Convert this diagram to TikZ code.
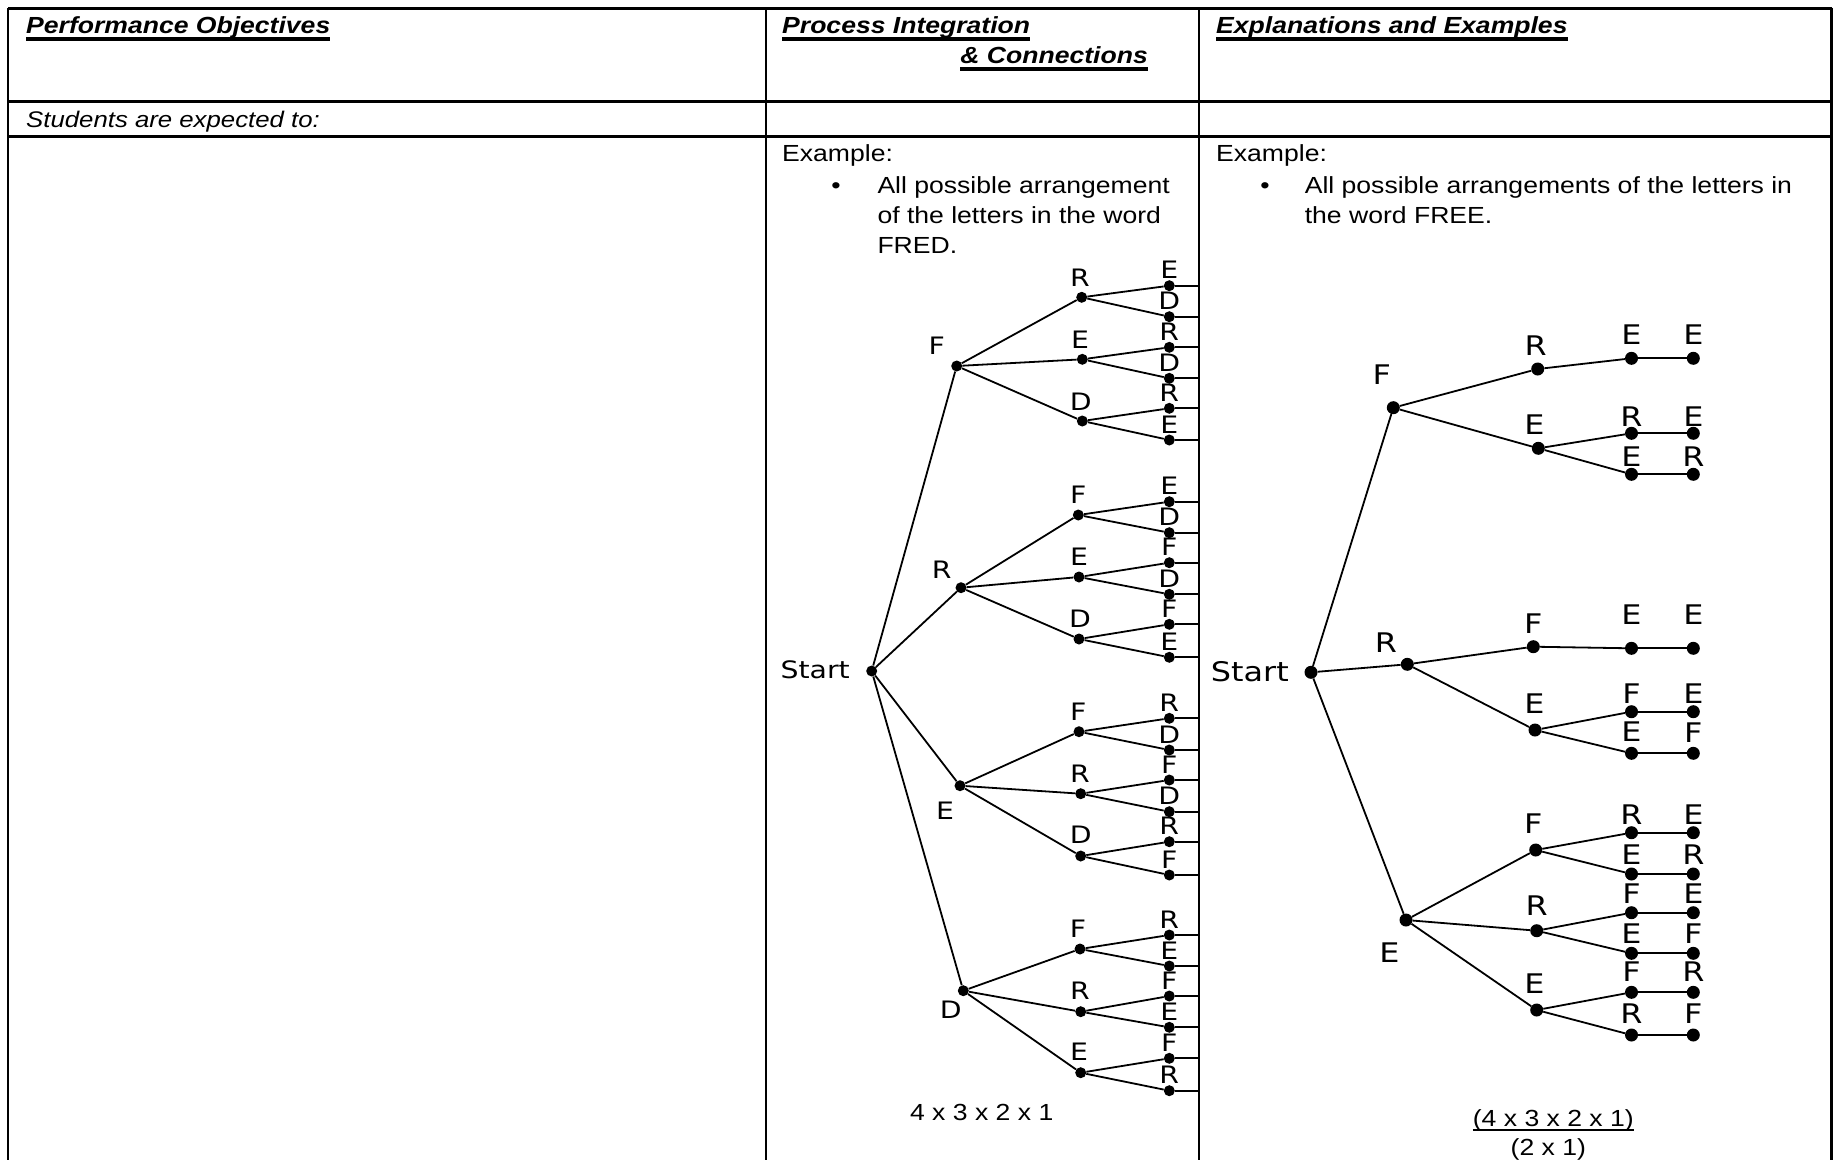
\documentclass[tikz,border=0pt]{standalone}
\usepackage{fontspec}
\setmainfont{Liberation Sans}
\newfontfamily\bodyf{Liberation Sans}[FakeStretch=1.14]
\newfontfamily\treef{DejaVu Sans}[FakeStretch=1.18]
\newcommand\ulx[3]{\setbox0\hbox{#3}\rlap{\vrule width\wd0 height -#1 depth #2}\box0}
\newcommand\ptl[6]{\node[dotl] (#1) at (#2,#3) {}; \node[labl] (#1t) at (#4,#5) {#6};}
\newcommand\ptr[6]{\node[dotr] (#1) at (#2,#3) {}; \node[labr] (#1t) at (#4,#5) {#6};}
\newcommand\lf[3]{\node[dotl] (#1) at (1169.3,#2) {}; \node[labl] (#1t) at (1169.3,{#2-15.7}) {#3};}
\begin{document}
\begin{tikzpicture}[x=1pt,y=-1pt,
  tblh/.style={line width=3pt},
  tblv/.style={line width=2.7pt},
  edge/.style={line width=1.8pt},
  dotl/.style={circle,fill=black,inner sep=0pt,minimum size=11pt},
  dotr/.style={circle,fill=black,inner sep=0pt,minimum size=13pt},
  labl/.style={inner sep=0pt,font=\treef\fontsize{24}{28}\selectfont},
  labr/.style={inner sep=0pt,font=\treef\fontsize{27}{32}\selectfont},
  body/.style={inner sep=0pt,font=\bodyf\fontsize{23.3}{30}\selectfont},
  head/.style={inner sep=0pt,font=\bodyf\fontsize{23.3}{30}\selectfont\bfseries\itshape}]
\fill[white] (0,0) rectangle (1833,1160);
\useasboundingbox (0,0) rectangle (1833,1160);
\clip (0,0) rectangle (1833,1160);
% table
\draw[tblh] (8,8.7) -- (1832,8.7);
\draw[tblh] (8,101.8) -- (1832,101.8);
\draw[tblh] (8,136.3) -- (1832,136.3);
\draw[tblv] (8,7.5) -- (8,1160);
\draw[tblv] (766,7.5) -- (766,1160);
\draw[tblv] (1199,7.5) -- (1199,1160);
\draw[tblv] (1831.5,7.5) -- (1831.5,1160);
\coordinate (colB) at (1198,0);
% headers
\node[head,anchor=base west] (h1) at (26,33.3) {\ulx{4pt}{7.2pt}{Performance Objectives}};
\node[head,anchor=base west] (h2) at (782,33.3) {\ulx{4pt}{7.2pt}{Process Integration}};
\node[head,anchor=base east] (h2b) at (1148,63.3) {\ulx{4pt}{7.2pt}{\& Connections}};
\node[head,anchor=base west] (h3) at (1216,33.3) {\ulx{4pt}{7.2pt}{Explanations and Examples}};
\node[body,anchor=base west,font=\bodyf\fontsize{22.6}{30}\selectfont\itshape] (st) at (26,127.7) {Students are expected to:};
% column 2 text
\node[body,anchor=base west] (ex2) at (782,161.7) {Example:};
\node[body,anchor=base] (bu2) at (836,193.3) {\textbullet};
\node[body,anchor=base west] (t2a) at (877.3,193.3) {All possible arrangement};
\node[body,anchor=base west] (t2b) at (877.3,223.3) {of the letters in the word};
\node[body,anchor=base west] (t2c) at (877.3,253.3) {FRED.};
% column 3 text
\node[body,anchor=base west] (ex3) at (1216,161.7) {Example:};
\node[body,anchor=base] (bu3) at (1265,193.3) {\textbullet};
\node[body,anchor=base west] (t3a) at (1304.6,193.3) {All possible arrangements of the letters in};
\node[body,anchor=base west] (t3b) at (1304.6,223.3) {the word FREE.};
% ---------- left tree (FRED) ----------
\node[dotl] (s1) at (871.7,671) {};
\node[labl,anchor=east] (s1t) at (850,670) {Start};
\ptl{a}{956.7}{366}{936.7}{346}{F}
\ptl{b}{961}{587.7}{941.7}{569.3}{R}
\ptl{c}{960}{785.7}{945}{811}{E}
\ptl{d}{963.3}{990.7}{950.7}{1009.3}{D}
\ptl{aR}{1081.7}{297.3}{1080}{278}{R}
\ptl{aE}{1082.3}{359.3}{1080}{340}{E}
\ptl{aD}{1082.3}{421}{1080.7}{401.7}{D}
\ptl{bF}{1078.3}{515}{1078.3}{495}{F}
\ptl{bE}{1079}{577}{1079}{556.7}{E}
\ptl{bD}{1079}{639}{1080}{618.3}{D}
\ptl{cF}{1079}{731.7}{1078.3}{711.7}{F}
\ptl{cR}{1080.7}{793.7}{1080}{774}{R}
\ptl{cD}{1080.7}{856}{1080.7}{835}{D}
\ptl{dF}{1080}{949}{1078}{928.3}{F}
\ptl{dR}{1080.7}{1011.7}{1080}{990.7}{R}
\ptl{dE}{1080.7}{1072.7}{1079}{1051.7}{E}
\lf{aRE}{285.7}{E} \lf{aRD}{316.7}{D}
\lf{aER}{347.3}{R} \lf{aED}{378.3}{D}
\lf{aDR}{408.3}{R} \lf{aDE}{440}{E}
\lf{bFE}{501.7}{E} \lf{bFD}{532.7}{D}
\lf{bEF}{562.7}{F} \lf{bED}{594.3}{D}
\lf{bDF}{624.3}{F} \lf{bDE}{657.3}{E}
\lf{cFR}{718.3}{R} \lf{cFD}{750}{D}
\lf{cRF}{780}{F} \lf{cRD}{811.7}{D}
\lf{cDR}{841.7}{R} \lf{cDF}{875}{F}
\lf{dFR}{935}{R} \lf{dFE}{966}{E}
\lf{dRF}{996}{F} \lf{dRE}{1027.3}{E}
\lf{dEF}{1058.3}{F} \lf{dER}{1090.7}{R}
\foreach \p/\c in {s1/a,s1/b,s1/c,s1/d,
  a/aR,a/aE,a/aD,b/bF,b/bE,b/bD,c/cF,c/cR,c/cD,d/dF,d/dR,d/dE,
  aR/aRE,aR/aRD,aE/aER,aE/aED,aD/aDR,aD/aDE,
  bF/bFE,bF/bFD,bE/bEF,bE/bED,bD/bDF,bD/bDE,
  cF/cFR,cF/cFD,cR/cRF,cR/cRD,cD/cDR,cD/cDF,
  dF/dFR,dF/dFE,dR/dRF,dR/dRE,dE/dEF,dE/dER}
  {\draw[edge] (\p) -- (\c);}
\foreach \l in {aRE,aRD,aER,aED,aDR,aDE,bFE,bFD,bEF,bED,bDF,bDE,
  cFR,cFD,cRF,cRD,cDR,cDF,dFR,dFE,dRF,dRE,dEF,dER}
  {\draw[edge] (\l) -- (\l -| colB);}
\node[body,anchor=base] (f1) at (981.7,1120.7) {4 x 3 x 2 x 1};
% ---------- right tree (FREE) ----------
\node[dotr] (s2) at (1311,672.3) {};
\node[labr,anchor=east] (s2t) at (1289,672) {Start};
\ptr{p}{1393.3}{407.7}{1381.7}{375}{F}
\ptr{q}{1407.3}{664.3}{1386}{642.7}{R}
\ptr{r}{1406}{920}{1389.3}{952.7}{E}
\ptr{pR}{1537.7}{369}{1535.7}{345.7}{R}
\ptr{pE}{1538.3}{448.3}{1534.3}{425}{E}
\ptr{qF}{1533.3}{646.7}{1533.3}{623.3}{F}
\ptr{qE}{1535}{730}{1534.3}{704}{E}
\ptr{rF}{1535.7}{850}{1533.3}{823.3}{F}
\ptr{rR}{1536.7}{930.7}{1536.7}{906}{R}
\ptr{rE}{1536.7}{1010}{1534.3}{984}{E}
\ptr{pRE}{1631.5}{358.3}{1631.5}{335}{E}
\ptr{pER}{1631.5}{433.3}{1631.5}{416.7}{R}
\ptr{pEE}{1631.5}{474.3}{1631.5}{456.7}{E}
\ptr{qFE}{1631.5}{648.3}{1631.5}{615}{E}
\ptr{qEF}{1631.5}{711.7}{1631.5}{693.3}{F}
\ptr{qEE}{1631.5}{753.3}{1631.5}{731.7}{E}
\ptr{rFR}{1631.5}{832.7}{1631.5}{815}{R}
\ptr{rFE}{1631.5}{874}{1631.5}{855}{E}
\ptr{rRF}{1631.5}{912.7}{1631.5}{893.3}{F}
\ptr{rRE}{1631.5}{953.3}{1631.5}{933.3}{E}
\ptr{rEF}{1631.5}{992.3}{1631.5}{971.7}{F}
\ptr{rER}{1631.5}{1035}{1631.5}{1013.3}{R}
\ptr{pRE4}{1693.3}{358.3}{1693.3}{335}{E}
\ptr{pER4}{1693.3}{433.3}{1693.3}{416.7}{E}
\ptr{pEE4}{1693.3}{474.3}{1693.3}{456.7}{R}
\ptr{qFE4}{1693.3}{648.3}{1693.3}{615}{E}
\ptr{qEF4}{1693.3}{711.7}{1693.3}{693.3}{E}
\ptr{qEE4}{1693.3}{753.3}{1693.3}{733}{F}
\ptr{rFR4}{1693.3}{832.7}{1693.3}{815}{E}
\ptr{rFE4}{1693.3}{874}{1693.3}{855}{R}
\ptr{rRF4}{1693.3}{912.7}{1693.3}{893.3}{E}
\ptr{rRE4}{1693.3}{953.3}{1693.3}{933.3}{F}
\ptr{rEF4}{1693.3}{992.3}{1693.3}{971.7}{R}
\ptr{rER4}{1693.3}{1035}{1693.3}{1013.3}{F}
\foreach \p/\c in {s2/p,s2/q,s2/r,
  p/pR,p/pE,q/qF,q/qE,r/rF,r/rR,r/rE,
  pR/pRE,pE/pER,pE/pEE,qF/qFE,qE/qEF,qE/qEE,
  rF/rFR,rF/rFE,rR/rRF,rR/rRE,rE/rEF,rE/rER,
  pRE/pRE4,pER/pER4,pEE/pEE4,qFE/qFE4,qEF/qEF4,qEE/qEE4,
  rFR/rFR4,rFE/rFE4,rRF/rRF4,rRE/rRE4,rEF/rEF4,rER/rER4}
  {\draw[edge] (\p) -- (\c);}
\node[body,anchor=base] (f2) at (1553.3,1126.7) {\ulx{2pt}{4.5pt}{(4 x 3 x 2 x 1)}};
\node[body,anchor=base] (f3) at (1548.3,1155) {(2 x 1)};
\end{tikzpicture}
\end{document}
